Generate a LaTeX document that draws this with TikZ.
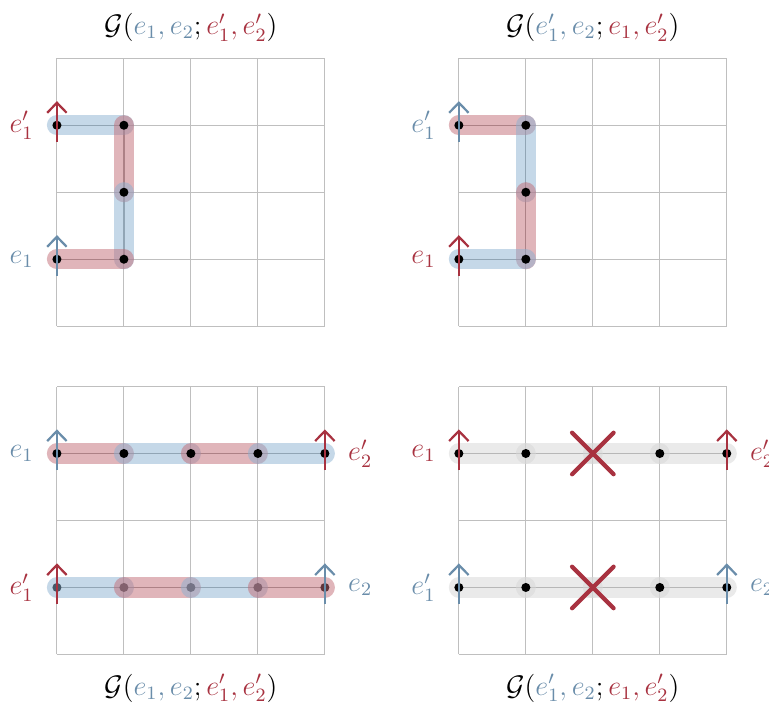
\documentclass[tikz,border=0pt]{standalone}
\usepackage{amsmath}
\usepackage{tikz}
\usetikzlibrary{arrows.meta,positioning,calc}
\usepackage{xcolor}
\definecolor{EdgeRed}{HTML}{A83240}
\definecolor{EdgeBlue}{HTML}{6A8DAA}
\definecolor{BandRed}{HTML}{C16B75}
\definecolor{BandBlue}{HTML}{8BB1D1}
\definecolor{BandGrey}{HTML}{D6D6D6}
\tikzset{
  grid line/.style={draw=black!25,line width=0.4pt},
  walk line/.style={draw=black!40,line width=0.5pt},
  band/.style={draw=#1,line width=0.3cm,line cap=round,opacity=0.5},
  site dot/.style={circle,fill=black,inner sep=0pt,minimum size=1.35mm},
  edge arrow/.style={-{Straight Barb[length=1.5mm,width=2.9mm]},line width=0.95pt},
  edge label/.style={font=\large},
  cross mark/.style={draw=EdgeRed,line width=1.8pt,line cap=round},
  title node/.style={font=\large}
}
\newcommand{\edgearrow}[2]{\draw[edge arrow,#1] ($(#2)+(0,-0.25)$) -- ($(#2)+(0,0.36)$);}
\newcommand{\crossat}[1]{%
  \draw[cross mark] ($(#1)+(-0.31,-0.31)$) -- ($(#1)+(0.31,0.31)$);
  \draw[cross mark] ($(#1)+(-0.31,0.31)$) -- ($(#1)+(0.31,-0.31)$);}

\begin{document}
\begin{tikzpicture}
  \useasboundingbox (-0.85,-5.64) rectangle (10.63,4.87);
  % lattices
  \draw[grid line] (0,0) grid (4,4);
  \draw[grid line] (6,0) grid (10,4);
  \draw[grid line,shift={(0,-4.9)},ystep=2] (0,0) grid (4,4);
  \draw[grid line,shift={(6,-4.9)},ystep=2] (0,0) grid (4,4);

  % top left: G(e1,e2; e1',e2')
  \coordinate (p1) at (0,3); \coordinate (p2) at (1,3); \coordinate (p3) at (1,2);
  \coordinate (p4) at (1,1); \coordinate (p5) at (0,1);
  \draw[walk line] (p1) -- (p2) -- (p3) -- (p4) -- (p5);
  \draw[band=BandBlue] (p1) -- (p2); \draw[band=BandRed] (p2) -- (p3);
  \draw[band=BandBlue] (p3) -- (p4); \draw[band=BandRed] (p4) -- (p5);
  \foreach \i in {1,...,5} \node[site dot] (pd\i) at (p\i) {};
  \edgearrow{EdgeRed}{p1} \edgearrow{EdgeBlue}{p5}
  \node[edge label,text=EdgeRed,left=1.5mm of pd1] (lp1) {$e'_1$};
  \node[edge label,text=EdgeBlue,left=1.5mm of pd5] (lp5) {$e_1$};
  \node[title node] (t1) at (2,4.46) {$\mathcal{G}(\textcolor{EdgeBlue}{e_1,e_2};\textcolor{EdgeRed}{e'_1,e'_2})$};

  % top right: G(e1',e2; e1,e2')
  \coordinate (q1) at (6,3); \coordinate (q2) at (7,3); \coordinate (q3) at (7,2);
  \coordinate (q4) at (7,1); \coordinate (q5) at (6,1);
  \draw[walk line] (q1) -- (q2) -- (q3) -- (q4) -- (q5);
  \draw[band=BandRed] (q1) -- (q2); \draw[band=BandBlue] (q2) -- (q3);
  \draw[band=BandRed] (q3) -- (q4); \draw[band=BandBlue] (q4) -- (q5);
  \foreach \i in {1,...,5} \node[site dot] (qd\i) at (q\i) {};
  \edgearrow{EdgeBlue}{q1} \edgearrow{EdgeRed}{q5}
  \node[edge label,text=EdgeBlue,left=1.5mm of qd1] (lq1) {$e'_1$};
  \node[edge label,text=EdgeRed,left=1.5mm of qd5] (lq5) {$e_1$};
  \node[title node] (t2) at (8,4.46) {$\mathcal{G}(\textcolor{EdgeBlue}{e'_1,e_2};\textcolor{EdgeRed}{e_1,e'_2})$};

  % bottom left: straight rows
  \foreach \i in {0,...,4} {
    \coordinate (u\i) at (\i,-1.9); \coordinate (v\i) at (\i,-3.9);
  }
  \draw[walk line] (u0) -- (u4); \draw[walk line] (v0) -- (v4);
  \draw[band=BandRed] (u0) -- (u1); \draw[band=BandBlue] (u1) -- (u2);
  \draw[band=BandRed] (u2) -- (u3); \draw[band=BandBlue] (u3) -- (u4);
  \foreach \i in {0,...,4} \node[site dot] (ud\i) at (u\i) {};
  \foreach \i in {0,...,4} \node[site dot] (vd\i) at (v\i) {};
  \draw[band=BandBlue] (v0) -- (v1); \draw[band=BandRed] (v1) -- (v2);
  \draw[band=BandBlue] (v2) -- (v3); \draw[band=BandRed] (v3) -- (v4);
  \edgearrow{EdgeBlue}{u0} \edgearrow{EdgeRed}{u4}
  \edgearrow{EdgeRed}{v0} \edgearrow{EdgeBlue}{v4}
  \node[edge label,text=EdgeBlue,left=1.5mm of ud0] (lu0) {$e_1$};
  \node[edge label,text=EdgeRed,right=1.5mm of ud4] (lu4) {$e'_2$};
  \node[edge label,text=EdgeRed,left=1.5mm of vd0] (lv0) {$e'_1$};
  \node[edge label,text=EdgeBlue,right=1.5mm of vd4] (lv4) {$e_2$};
  \node[title node] (t3) at (2,-5.4) {$\mathcal{G}(\textcolor{EdgeBlue}{e_1,e_2};\textcolor{EdgeRed}{e'_1,e'_2})$};

  % bottom right: crossing forbidden
  \foreach \i in {0,...,4} {
    \coordinate (s\i) at (6+\i,-1.9); \coordinate (w\i) at (6+\i,-3.9);
  }
  \draw[walk line] (s0) -- (s4); \draw[walk line] (w0) -- (w4);
  \foreach \i/\j in {0/1,1/2,2/3,3/4} {
    \draw[band=BandGrey] (s\i) -- (s\j); \draw[band=BandGrey] (w\i) -- (w\j);
  }
  \foreach \i in {0,1,3,4} {
    \node[site dot] (sd\i) at (s\i) {}; \node[site dot] (wd\i) at (w\i) {};
  }
  \crossat{s2} \crossat{w2}
  \edgearrow{EdgeRed}{s0} \edgearrow{EdgeRed}{s4}
  \edgearrow{EdgeBlue}{w0} \edgearrow{EdgeBlue}{w4}
  \node[edge label,text=EdgeRed,left=1.5mm of sd0] (ls0) {$e_1$};
  \node[edge label,text=EdgeRed,right=1.5mm of sd4] (ls4) {$e'_2$};
  \node[edge label,text=EdgeBlue,left=1.5mm of wd0] (lw0) {$e'_1$};
  \node[edge label,text=EdgeBlue,right=1.5mm of wd4] (lw4) {$e_2$};
  \node[title node] (t4) at (8,-5.4) {$\mathcal{G}(\textcolor{EdgeBlue}{e'_1,e_2};\textcolor{EdgeRed}{e_1,e'_2})$};
\end{tikzpicture}
\end{document}
